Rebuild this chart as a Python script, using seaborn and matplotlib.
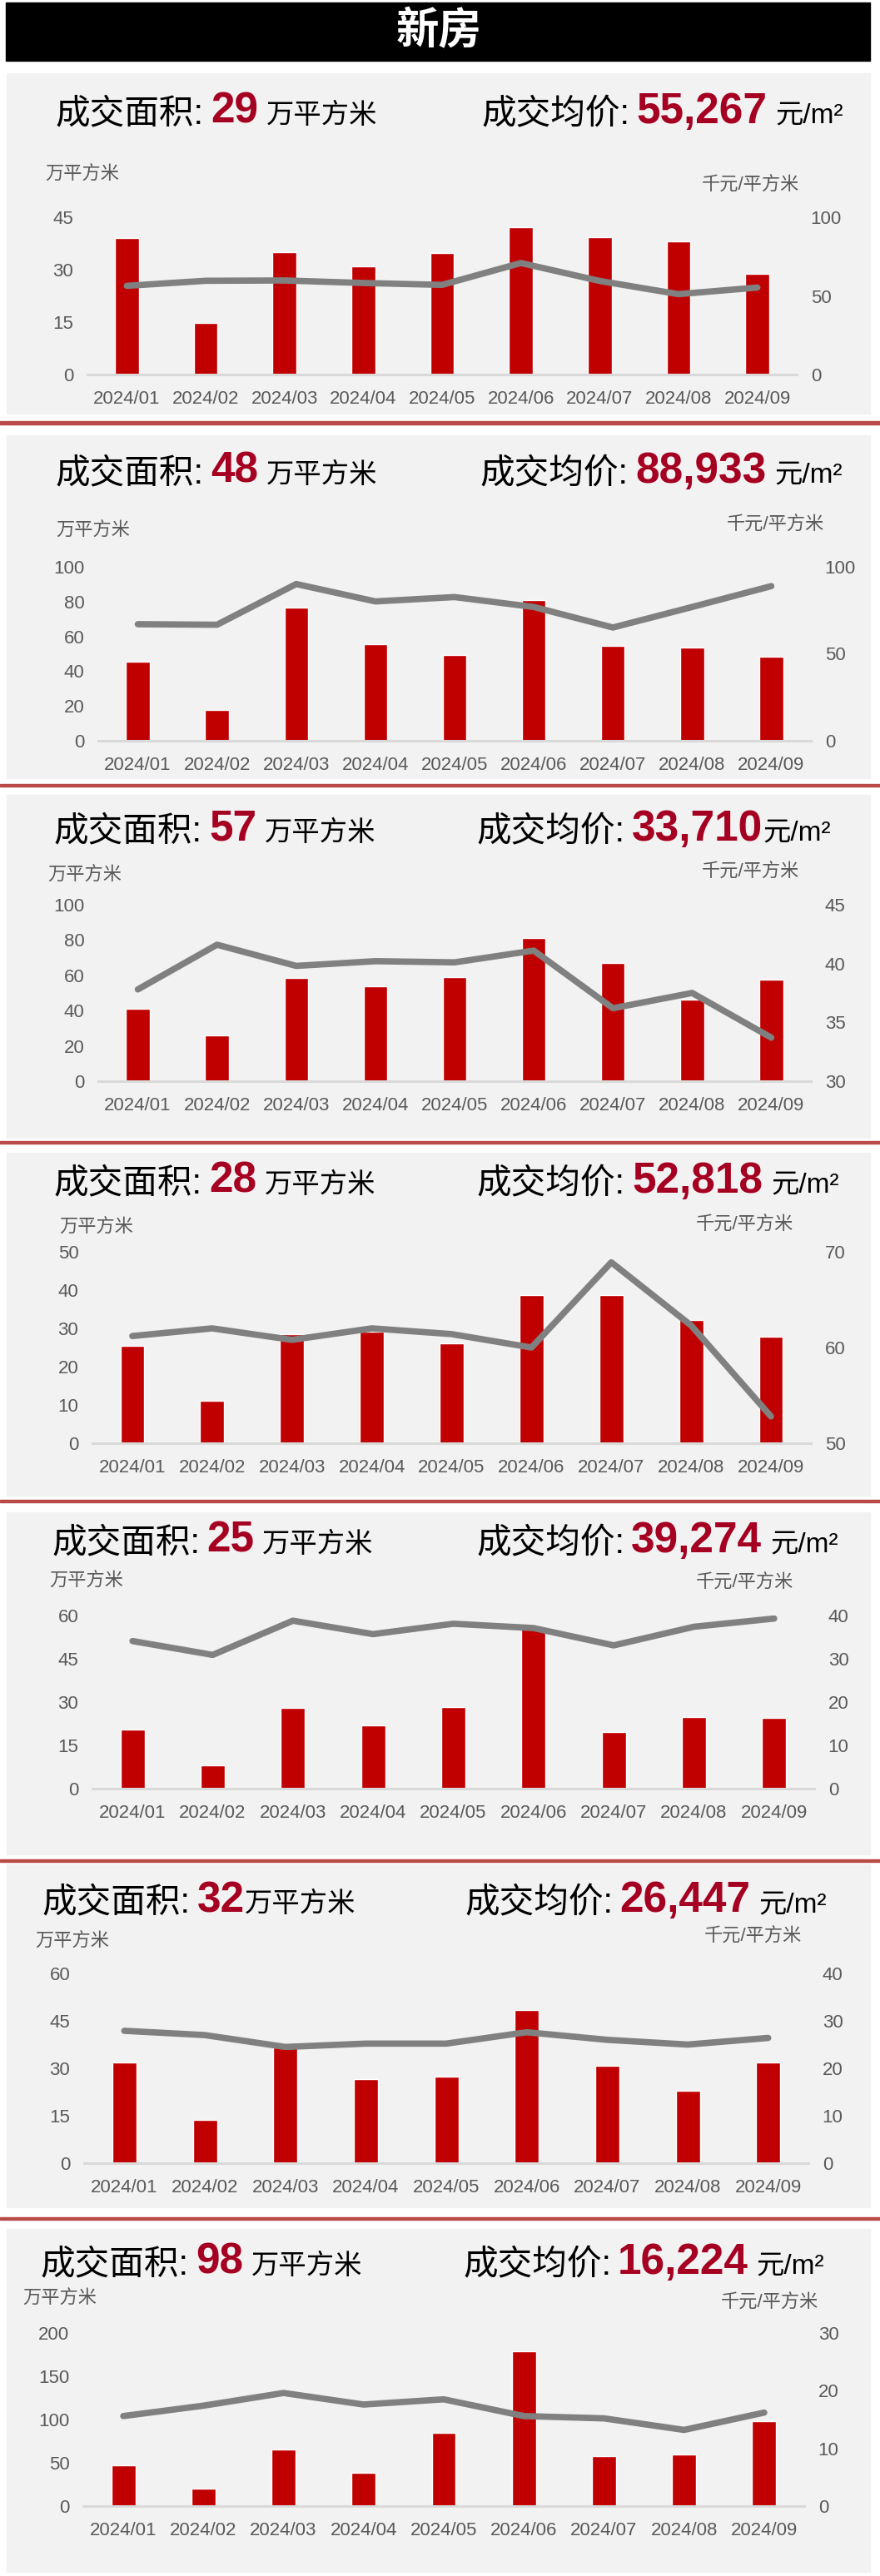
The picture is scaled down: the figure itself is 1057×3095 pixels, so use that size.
import pandas as pd
import seaborn as sns
import matplotlib.pyplot as plt
from matplotlib.patches import Rectangle

# ---- data ----
months = ["2024/01", "2024/02", "2024/03", "2024/04", "2024/05",
          "2024/06", "2024/07", "2024/08", "2024/09"]

area_p1 = [39.1, 14.8, 35.1, 30.9, 34.7, 42.1, 39.4, 38.0, 28.8]
price_p1 = [56.4, 59.6, 59.8, 58.2, 57.0, 70.9, 59.5, 51.1, 55.3]

area_p2 = [45.5, 17.9, 76.6, 55.5, 49.4, 81.0, 54.7, 53.4, 48.2]
price_p2 = [67.0, 66.7, 90.1, 80.1, 82.6, 76.9, 65.1, 76.9, 88.9]

area_p3 = [41.2, 25.9, 58.5, 53.8, 58.9, 81.2, 67.1, 46.0, 57.7]
price_p3 = [37.8, 41.6, 39.8, 40.2, 40.1, 41.1, 36.2, 37.5, 33.7]

area_p4 = [25.4, 11.1, 28.5, 29.2, 26.1, 38.8, 38.8, 32.1, 27.8]
price_p4 = [61.2, 62.0, 60.8, 62.0, 61.4, 60.0, 68.9, 62.3, 52.8]

area_p5 = [20.4, 8.2, 27.9, 21.9, 28.3, 56.0, 19.7, 24.7, 24.5]
price_p5 = [34.1, 30.9, 38.8, 35.7, 38.1, 37.1, 33.1, 37.4, 39.3]

area_p6 = [31.8, 13.6, 36.5, 26.7, 27.4, 48.4, 30.9, 23.0, 31.9]
price_p6 = [27.9, 27.0, 24.5, 25.2, 25.2, 27.6, 26.0, 25.0, 26.4]

area_p7 = [47.1, 20.5, 65.7, 38.1, 84.9, 178.5, 57.7, 59.9, 98.4]
price_p7 = [15.6, 17.4, 19.6, 17.6, 18.5, 15.6, 15.2, 13.2, 16.2]

headline_area = [29, 48, 57, 28, 25, 32, 98]
headline_price = [55267, 88933, 33710, 52818, 39274, 26447, 16224]

left_ticks = [[0, 15, 30, 45], [0, 20, 40, 60, 80, 100], [0, 20, 40, 60, 80, 100],
              [0, 10, 20, 30, 40, 50], [0, 15, 30, 45, 60], [0, 15, 30, 45, 60],
              [0, 50, 100, 150, 200]]
right_ticks = [[0, 50, 100], [0, 50, 100], [30, 35, 40, 45], [50, 60, 70],
               [0, 10, 20, 30, 40], [0, 10, 20, 30, 40], [0, 10, 20, 30]]

areas = [area_p1, area_p2, area_p3, area_p4, area_p5, area_p6, area_p7]
prices = [price_p1, price_p2, price_p3, price_p4, price_p5, price_p6, price_p7]

# ---- layout (pixels, measured from top) ----
W, H = 1057, 3095
panel_box = [(88, 497), (523, 935), (955, 1367), (1385, 1797),
             (1817, 2228), (2240, 2652), (2678, 3090)]
red_lines = [508, 943, 1373, 1803, 2235, 2665]
axes_box = [(105, 957, 261, 450), (118, 974, 681, 890), (118, 974, 1087, 1299),
            (111, 974, 1504, 1734), (111, 978, 1941, 2149), (101, 971, 2371, 2599),
            (100, 966, 2803, 3011)]
title_y = [148, 580, 1010, 1433, 1865, 2297, 2732]
title_left_x = [67, 67, 65, 65, 62, 51, 49]
title_right_x = [578, 577, 573, 573, 572, 558, 556]
unit_gap_left = [10, 10, 10, 10, 10, 0, 10]
unit_gap_right = [10, 10, 0, 10, 10, 10, 10]
unit_left = [(54, 210), (67, 638), (57, 1052), (71, 1475), (59, 1900), (42, 2333), (27, 2762)]
unit_right = [(843, 223), (873, 631), (843, 1048), (836, 1472), (836, 1902), (846, 2327), (866, 2767)]

BAR_RED = "#c00000"
NUM_RED = "#a50021"
LINE_GRAY = "#808080"
TICK_GRAY = "#595959"

sns.set_theme(style="white")
plt.rcParams['font.family'] = ['Liberation Sans', 'Noto Sans CJK SC']

fig = plt.figure(figsize=(W / 100, H / 100), dpi=100)
fig.patch.set_facecolor("white")
renderer = fig.canvas.get_renderer()


def fx(x):
    return x / W


def fy(y):
    return 1 - y / H


def rich_line(x, y, parts):
    # place text pieces one after another on a shared baseline
    for text, size, color, weight, gap in parts:
        t = fig.text(fx(x + gap), fy(y), text, fontsize=size, color=color,
                     fontweight=weight, ha="left", va="baseline")
        x = t.get_window_extent(renderer).x1


# header bar
fig.patches.append(Rectangle((fx(7), fy(73)), fx(1045 - 7), 70 / H,
                             transform=fig.transFigure, color="black", zorder=-2))
fig.text(fx(527), fy(38), "新房", color="white", fontsize=37, fontweight="bold",
         ha="center", va="center")

for y in red_lines:
    fig.patches.append(Rectangle((0, fy(y + 1.5)), 1, 3 / H, transform=fig.transFigure,
                                 color="#b94a48", zorder=-2))

for i in range(7):
    top, bottom = panel_box[i]
    fig.patches.append(Rectangle((fx(8), fy(bottom)), fx(1045 - 8), (bottom - top) / H,
                                 transform=fig.transFigure, color="#f2f2f2", zorder=-2))

    rich_line(title_left_x[i], title_y[i], [
        ("成交面积:", 30, "black", "normal", 0),
        (str(headline_area[i]), 37, NUM_RED, "bold", 8),
        ("万平方米", 24, "black", "normal", unit_gap_left[i]),
    ])
    rich_line(title_right_x[i], title_y[i], [
        ("成交均价:", 30, "black", "normal", 0),
        (f"{headline_price[i]:,}", 37, NUM_RED, "bold", 8),
        ("元/m²", 24, "black", "normal", unit_gap_right[i]),
    ])

    fig.text(fx(unit_left[i][0]), fy(unit_left[i][1]), "万平方米", fontsize=16,
             color=TICK_GRAY, ha="left", va="center")
    fig.text(fx(unit_right[i][0]), fy(unit_right[i][1]), "千元/平方米", fontsize=16,
             color=TICK_GRAY, ha="left", va="center")

    x0, x1, y0, y1 = axes_box[i]
    ax = fig.add_axes([fx(x0), fy(y1), (x1 - x0) / W, (y1 - y0) / H])
    df = pd.DataFrame({"month": months, "area": areas[i], "price": prices[i]})

    sns.barplot(data=df, x="month", y="area", color=BAR_RED, width=0.3,
                saturation=1, errorbar=None, ax=ax)
    ax2 = ax.twinx()
    sns.lineplot(data=df, x="month", y="price", color=LINE_GRAY, linewidth=5.5,
                 sort=False, ax=ax2, solid_capstyle="round", solid_joinstyle="round")

    ax.set_xlim(-0.5, 8.5)
    ax.set_ylim(left_ticks[i][0], left_ticks[i][-1])
    ax.set_yticks(left_ticks[i])
    ax2.set_ylim(right_ticks[i][0], right_ticks[i][-1])
    ax2.set_yticks(right_ticks[i])

    for a in (ax, ax2):
        a.set_facecolor("none")
        a.set_xlabel("")
        a.set_ylabel("")
        for s in a.spines.values():
            s.set_visible(False)
    ax.spines["bottom"].set_visible(True)
    ax.spines["bottom"].set_color("#d9d9d9")
    ax.spines["bottom"].set_linewidth(2.2)

    ax.tick_params(axis="x", length=0, pad=14, labelsize=16, labelcolor=TICK_GRAY)
    ax.tick_params(axis="y", length=0, pad=12, labelsize=16, labelcolor=TICK_GRAY)
    ax2.tick_params(axis="y", length=0, pad=12, labelsize=16, labelcolor=TICK_GRAY)

fig.savefig("out.png", dpi=100)
